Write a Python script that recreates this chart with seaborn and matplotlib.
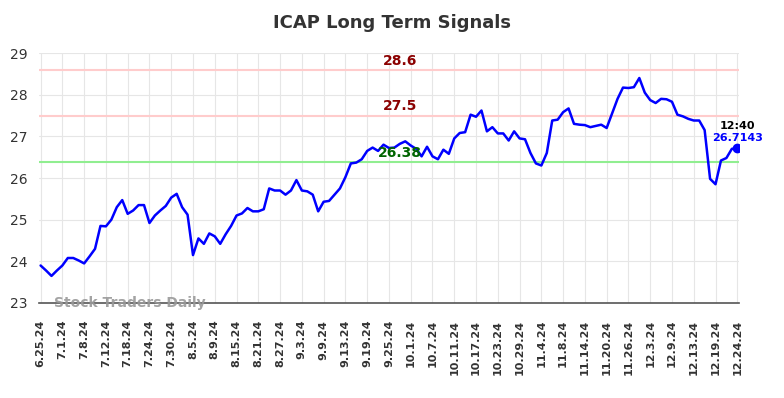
import matplotlib
matplotlib.use("Agg")
import matplotlib.pyplot as plt
import seaborn as sns
import numpy as np
import pandas as pd

# 종가 데이터
prices = [
    23.90, 23.78, 23.65, 23.78, 23.90, 24.08, 24.08, 24.02, 23.95, 24.12,
    24.30, 24.85, 24.84, 25.00, 25.30, 25.47, 25.14, 25.22, 25.35, 25.35,
    24.92, 25.10, 25.22, 25.33, 25.53, 25.62, 25.30, 25.12, 24.15, 24.55,
    24.42, 24.67, 24.60, 24.42, 24.65, 24.85, 25.10, 25.15, 25.28, 25.20,
    25.20, 25.25, 25.75, 25.70, 25.70, 25.60, 25.70, 25.95, 25.70, 25.68,
    25.60, 25.20, 25.43, 25.45, 25.60, 25.75, 26.02, 26.35, 26.37, 26.45,
    26.65, 26.73, 26.65, 26.80, 26.72, 26.73, 26.82, 26.88, 26.78, 26.70,
    26.52, 26.75, 26.52, 26.45, 26.68, 26.58, 26.95, 27.08, 27.10, 27.52,
    27.47, 27.62, 27.12, 27.22, 27.07, 27.07, 26.90, 27.12, 26.95, 26.93,
    26.60, 26.35, 26.30, 26.60, 27.38, 27.40, 27.58, 27.67, 27.30, 27.28,
    27.27, 27.22, 27.25, 27.28, 27.20, 27.55, 27.90, 28.17, 28.16, 28.18,
    28.40, 28.05, 27.87, 27.80, 27.90, 27.89, 27.83, 27.52, 27.48, 27.42,
    27.38, 27.38, 27.15, 25.98, 25.85, 26.42, 26.48, 26.70, 26.7143,
]
tick_labels = [
    "6.25.24", "7.1.24", "7.8.24", "7.12.24", "7.18.24", "7.24.24", "7.30.24",
    "8.5.24", "8.9.24", "8.15.24", "8.21.24", "8.27.24", "9.3.24", "9.9.24",
    "9.13.24", "9.19.24", "9.25.24", "10.1.24", "10.7.24", "10.11.24",
    "10.17.24", "10.23.24", "10.29.24", "11.4.24", "11.8.24", "11.14.24",
    "11.20.24", "11.26.24", "12.3.24", "12.9.24", "12.13.24", "12.19.24",
    "12.24.24",
]
resistance = [28.6, 27.5]
support = 26.38
last_time = "12:40"

df = pd.DataFrame({"idx": np.arange(len(prices)), "price": prices})

sns.set_style("whitegrid", {"grid.color": "#e6e6e6"})
fig = plt.figure(figsize=(7.84, 3.98), dpi=100)
ax = fig.add_axes([0.0497, 0.2387, 0.8935, 0.6281])

for r in resistance:
    ax.axhline(r, color="#ffcccc", lw=1.5, zorder=1)
ax.axhline(support, color="#90ee90", lw=1.5, zorder=1)

sns.lineplot(data=df, x="idx", y="price", color="blue", lw=1.8, ax=ax, zorder=3)
ax.plot(df["idx"].iloc[-1], df["price"].iloc[-1], "o", color="blue", ms=6, zorder=4)

mid = 66
for r in resistance:
    ax.text(mid, r + 0.05, f"{r}", color="#8b0000", fontsize=10, fontweight="bold",
            ha="center", va="bottom")
ax.text(mid, support + 0.05, f"{support}", color="#006400", fontsize=10,
        fontweight="bold", ha="center", va="bottom")
last = df["idx"].iloc[-1]
ax.text(last, prices[-1] + 0.42, last_time, color="black", fontsize=8,
        fontweight="bold", ha="center", va="bottom")
ax.text(last, prices[-1] + 0.12, f"{prices[-1]}", color="blue", fontsize=8,
        fontweight="bold", ha="center", va="bottom")
ax.text(2.4, 23.0, "Stock Traders Daily", color="#999999", fontsize=10,
        fontweight="bold", ha="left", va="center", alpha=0.9)

ax.set_xlim(-0.3, 128.4)
ax.set_ylim(23, 29)
ax.set_xticks(np.arange(0, len(prices), 4))
ax.set_xticklabels(tick_labels, rotation=90, fontsize=8, fontweight="bold",
                   color="#333333")
ax.set_yticks(range(23, 30))
ax.tick_params(axis="y", labelsize=10, labelcolor="#333333", pad=8, length=0)
ax.tick_params(axis="x", pad=12, length=0)
ax.set_xlabel("")
ax.set_ylabel("")
for s in ["top", "right", "left"]:
    ax.spines[s].set_visible(False)
ax.spines["bottom"].set_color("#555555")
ax.spines["bottom"].set_linewidth(1.2)

fig.suptitle("ICAP Long Term Signals", x=0.5, y=0.965, fontsize=13,
             fontweight="bold", color="#333333")
fig.savefig("out.png", dpi=100)
